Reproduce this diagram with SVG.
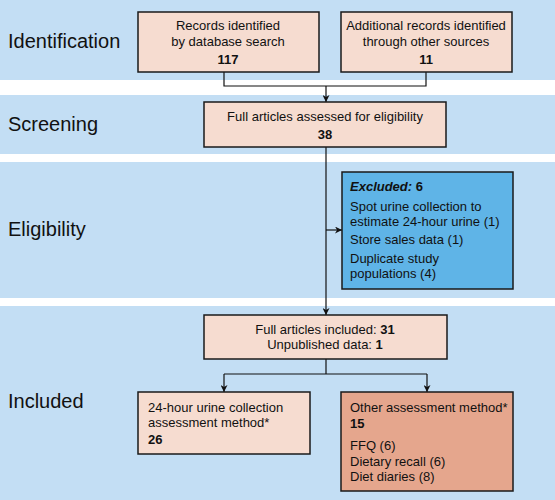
<svg xmlns="http://www.w3.org/2000/svg" width="555" height="500" viewBox="0 0 555 500">
<style>
.band{fill:#c3def4}
.box{fill:#f6dcd0;stroke:#1a1a1a;stroke-width:1.5}
.exc{fill:#5fb4e7;stroke:#1a1a1a;stroke-width:1.5}
.oth{fill:#e5a68d;stroke:#1a1a1a;stroke-width:1.5}
.stage{font-family:"Liberation Sans",Arial,sans-serif;font-size:20px;fill:#111}
.t{font-family:"Liberation Sans",Arial,sans-serif;font-size:13px;fill:#111}
.c{text-anchor:middle}
.b{font-weight:bold}
.conn path{fill:none;stroke:#111;stroke-width:1.2}
</style>
<defs>
<marker id="ah" viewBox="0 0 10 10" refX="10" refY="5" markerWidth="7" markerHeight="7" orient="auto" markerUnits="userSpaceOnUse">
<path d="M0,0 L10,5 L0,10 L3,5 z" fill="#111"/>
</marker>
</defs>
<rect width="555" height="500" fill="#fff"/>
<rect class="band" x="0" y="0" width="555" height="80"/>
<rect class="band" x="0" y="95" width="555" height="59"/>
<rect class="band" x="0" y="162" width="555" height="136"/>
<rect class="band" x="0" y="306" width="555" height="194"/>
<text class="stage" x="8" y="48">Identification</text>
<text class="stage" x="8" y="131">Screening</text>
<text class="stage" x="8" y="236">Eligibility</text>
<text class="stage" x="8" y="408">Included</text>
<g class="conn">
<path d="M224,72 V86 H426 V72"/>
<path d="M326,86 V102" marker-end="url(#ah)"/>
<path d="M326,147 V315" marker-end="url(#ah)"/>
<path d="M326,230 H342" marker-end="url(#ah)"/>
<path d="M326,359 V374 M224,374 H427"/>
<path d="M224,374 V392" marker-end="url(#ah)"/>
<path d="M427,374 V392" marker-end="url(#ah)"/>
</g>
<g id="records">
<rect class="box" x="138" y="12" width="181" height="60"/>
<text class="t c" x="228" y="30">Records identified</text>
<text class="t c" x="228" y="46">by database search</text>
<text class="t c b" x="228" y="64">117</text>
</g>
<g id="additional">
<rect class="box" x="341" y="12" width="171" height="60"/>
<text class="t c" x="426" y="30">Additional records identified</text>
<text class="t c" x="426" y="46">through other sources</text>
<text class="t c b" x="426" y="64">11</text>
</g>
<g id="assessed">
<rect class="box" x="204" y="102" width="242" height="45"/>
<text class="t c" x="325" y="121">Full articles assessed for eligibility</text>
<text class="t c b" x="325" y="139">38</text>
</g>
<g id="excluded">
<rect class="exc" x="342" y="172" width="171" height="117"/>
<text class="t b" x="350" y="191"><tspan font-style="italic">Excluded:</tspan> 6</text>
<text class="t" x="350" y="211">Spot urine collection to</text>
<text class="t" x="350" y="226">estimate 24-hour urine (1)</text>
<text class="t" x="350" y="244">Store sales data (1)</text>
<text class="t" x="350" y="263">Duplicate study</text>
<text class="t" x="350" y="278">populations (4)</text>
</g>
<g id="included">
<rect class="box" x="204" y="315" width="243" height="44"/>
<text class="t c" x="325" y="334">Full articles included: <tspan class="b">31</tspan></text>
<text class="t c" x="325" y="349">Unpublished data: <tspan class="b">1</tspan></text>
</g>
<g id="urine24">
<rect class="box" x="138" y="392" width="172" height="62"/>
<text class="t" x="148" y="412">24-hour urine collection</text>
<text class="t" x="148" y="427">assessment method*</text>
<text class="t b" x="148" y="444">26</text>
</g>
<g id="other">
<rect class="oth" x="341" y="392" width="172" height="99"/>
<text class="t" x="350" y="412">Other assessment method*</text>
<text class="t b" x="350" y="428">15</text>
<text class="t" x="350" y="450">FFQ (6)</text>
<text class="t" x="350" y="466">Dietary recall (6)</text>
<text class="t" x="350" y="481">Diet diaries (8)</text>
</g>
</svg>
